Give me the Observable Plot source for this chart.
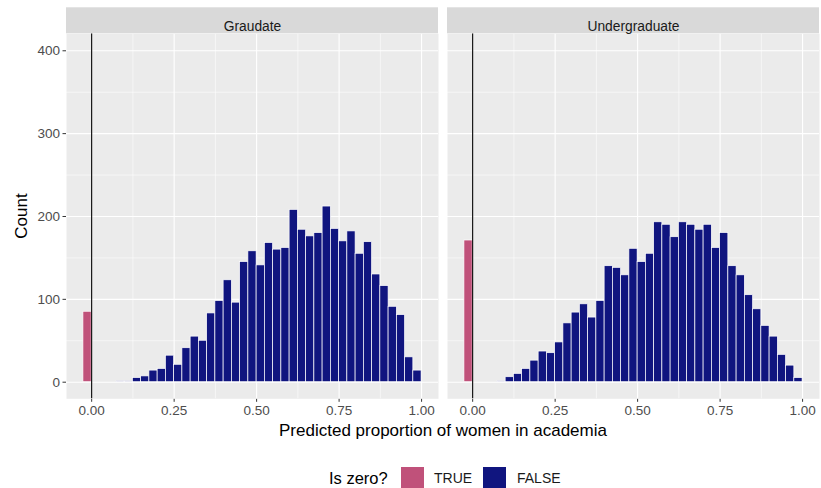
<!DOCTYPE html>
<html><head><meta charset="utf-8">
<script src="https://cdn.jsdelivr.net/npm/d3@7"></script>
<script src="https://cdn.jsdelivr.net/npm/@observablehq/plot@0.6"></script>
<style>
body{margin:0;background:#fff;font-family:"Liberation Sans",Arial,Helvetica,sans-serif;}
#wrap{position:relative;width:821px;height:488px;overflow:hidden;background:#fff;}
#wrap svg{position:absolute;left:0;top:0;}
.ttl{position:absolute;color:#000;font-size:17px;white-space:nowrap;}
#xt{left:65.7px;width:754.6px;text-align:center;top:421px;line-height:20px;}
#yt{left:21.7px;top:215.8px;transform:translate(-50%,-50%) rotate(-90deg);line-height:20px;}
.lg{position:absolute;top:467px;height:23px;line-height:23px;white-space:nowrap;}
.lt{font-size:16.5px;color:#000;}
.sw{width:23px;}
.ll{font-size:14px;color:#1a1a1a;}
</style></head><body><div id="wrap"></div>
<script>
const panels = ["Graudate", "Undergraduate"];
const binEdges = [-0.025, 0, 0.025, 0.05, 0.075, 0.1, 0.125, 0.15, 0.175, 0.2, 0.225, 0.25, 0.275, 0.3, 0.325, 0.35, 0.375, 0.4, 0.425, 0.45, 0.475, 0.5, 0.525, 0.55, 0.575, 0.6, 0.625, 0.65, 0.675, 0.7, 0.725, 0.75, 0.775, 0.8, 0.825, 0.85, 0.875, 0.9, 0.925, 0.95, 0.975, 1.0];
const gradCounts = [85, 0, 0, 0, 1, 1, 5, 7, 14, 16, 32, 21, 41, 55, 50, 83, 98, 123, 96, 145, 158, 141, 168, 160, 162, 208, 184, 176, 180, 212, 185, 170, 182, 155, 169, 130, 116, 91, 81, 30, 14];
const undergradCounts = [171, 0, 0, 0, 1, 6, 10, 16, 26, 37, 35, 48, 71, 84, 94, 78, 98, 140, 138, 129, 161, 145, 155, 193, 190, 175, 193, 190, 184, 190, 162, 180, 140, 129, 105, 88, 68, 55, 33, 20, 5];
const zeroBinStart = -0.025;
const legendLabels = ["TRUE", "FALSE"];
const legendColors = ["#C0517A", "#10157F"];
const xTicks = [0, 0.25, 0.5, 0.75, 1];
const xMinor = [0.125, 0.375, 0.625, 0.875];
const yTicks = [0, 100, 200, 300, 400];
const yMinor = [50, 150, 250, 350];
const xTitle = "Predicted proportion of women in academia";
const yTitle = "Count";
const legendTitle = "Is zero?";

const rows = [];
panels.forEach((p, i) => {
  const c = i === 0 ? gradCounts : undergradCounts;
  c.forEach((v, j) => {
    if (v > 0) rows.push({panel: p, x0: binEdges[j], x1: binEdges[j + 1], count: v,
      zero: binEdges[j] === zeroBinStart ? "TRUE" : "FALSE"});
  });
});

const xDomain = [-0.07625, 1.05125];
const yDomain = [-20.05, 420.5];
const mTop = 33.3, mBottom = 49.7, H = 448;
const pxPerUnit = (H - mTop - mBottom) / (yDomain[1] - yDomain[0]);
const stripTop = yDomain[1] + 26 / pxPerUnit;
const font = '"Liberation Sans",Arial,Helvetica,sans-serif';

const chart = Plot.plot({
  width: 821, height: H,
  marginLeft: 65.7, marginRight: 1, marginTop: mTop, marginBottom: mBottom,
  style: {fontFamily: font, fontSize: "13.5px", color: "#4d4d4d", background: "transparent", overflow: "visible"},
  fx: {domain: panels, paddingInner: 0.0224, paddingOuter: 0, axis: null, label: null},
  x: {domain: xDomain, ticks: xTicks, tickFormat: d3.format(".2f"), tickSize: 3.5, tickPadding: 3.5, label: null},
  y: {domain: yDomain, ticks: yTicks, tickSize: 3.5, tickPadding: 3, label: null},
  color: {domain: legendLabels, range: legendColors},
  marks: [
    Plot.frame({fill: "#EBEBEB", stroke: null}),
    Plot.ruleY(yMinor, {stroke: "white", strokeWidth: 0.55}),
    Plot.ruleX(xMinor, {stroke: "white", strokeWidth: 0.55}),
    Plot.ruleY(yTicks, {stroke: "white", strokeWidth: 1.1}),
    Plot.ruleX(xTicks, {stroke: "white", strokeWidth: 1.1}),
    Plot.rectY(rows, {x1: "x0", x2: "x1", y: "count", fx: "panel", fill: "zero", stroke: "white", strokeWidth: 0.7}),
    Plot.ruleX([0], {stroke: "black", strokeWidth: 1.1}),
    Plot.rect(panels, {fx: d => d, x1: xDomain[0], x2: xDomain[1], y1: yDomain[1], y2: stripTop, fill: "#D9D9D9"}),
    Plot.text(panels, {fx: d => d, text: d => d, frameAnchor: "top", dy: -13, fill: "#1a1a1a", fontSize: 13.8})
  ]
});
chart.querySelectorAll('g[aria-label$="tick"] path, g[aria-label$="tick"] line').forEach(e => e.setAttribute("stroke", "#333"));

const wrap = document.getElementById("wrap");
wrap.appendChild(chart);
const xt = document.createElement("div"); xt.className = "ttl"; xt.id = "xt"; xt.textContent = xTitle; wrap.appendChild(xt);
const yt = document.createElement("div"); yt.className = "ttl"; yt.id = "yt"; yt.textContent = yTitle; wrap.appendChild(yt);

function addLegend(cls, left, text, bg) {
  const el = document.createElement("div");
  el.className = "lg " + cls;
  el.style.left = left + "px";
  if (text) el.textContent = text;
  if (bg) el.style.background = bg;
  wrap.appendChild(el);
}
addLegend("lt", 329, legendTitle);
const swLeft = [401, 483], labLeft = [434, 517];
legendLabels.forEach((l, i) => {
  addLegend("sw", swLeft[i], null, legendColors[i]);
  addLegend("ll", labLeft[i], l);
});
</script></body></html>
